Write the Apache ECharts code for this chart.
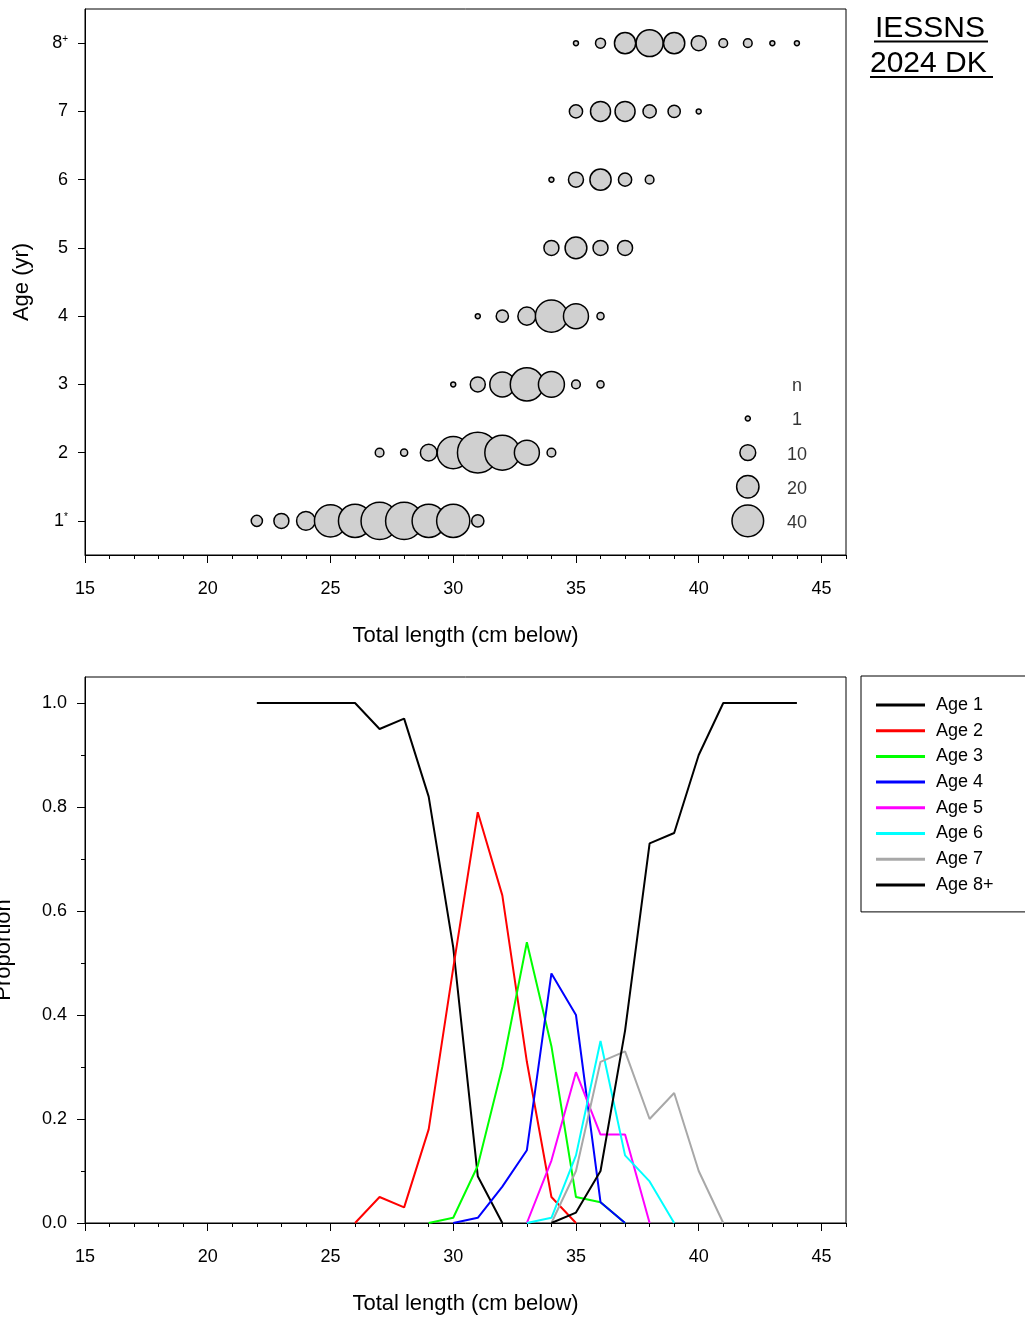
<!DOCTYPE html>
<html>
<head>
    <meta charset="utf-8">
    <title>IESSNS 2024 DK</title>
    <script src="https://cdn.jsdelivr.net/npm/echarts@6/dist/echarts.min.js"></script>
    <style>
        html, body { margin: 0; padding: 0; background: #fff; }
    </style>
</head>
<body>
<div id="main" style="width: 1025px;height:1321px;"></div>
<script type="text/javascript">
    // --- top panel: numbers at age by length (bubble = count) ---
    var ageLengths = [
        [22, 23, 24, 25, 26, 27, 28, 29, 30, 31],
        [27, 28, 29, 30, 31, 32, 33, 34],
        [30, 31, 32, 33, 34, 35, 36],
        [31, 32, 33, 34, 35, 36],
        [34, 35, 36, 37],
        [34, 35, 36, 37, 38],
        [35, 36, 37, 38, 39, 40],
        [35, 36, 37, 38, 39, 40, 41, 42, 43, 44]
    ];
    var ageCounts = [
        [5, 9, 14, 41, 44, 55, 55, 44, 44, 6],
        [3, 2, 11, 41, 66, 49, 25, 3],
        [1, 9, 25, 44, 27, 3, 2],
        [1, 6, 13, 41, 25, 2],
        [9, 19, 9, 9],
        [1, 9, 18, 7, 3],
        [7, 16, 16, 7, 6, 1],
        [1, 4, 18, 29, 18, 9, 3, 3, 1, 1]
    ];
    var sizeKeys = [1, 10, 20, 40];
    var ageTicks = [1, 2, 3, 4, 5, 6, 7, 8];

    // --- bottom panel: proportion at age by length ---
    var seriesNames = ['Age 1', 'Age 2', 'Age 3', 'Age 4', 'Age 5', 'Age 6', 'Age 7', 'Age 8+'];
    var seriesColors = ['#000000', '#ff0000', '#00ff00', '#0000ff', '#ff00ff', '#00ffff', '#a8a8a8', '#000000'];
    var propStart = [22, 26, 29, 30, 33, 33, 34, 34];
    var propValues = [
        [1, 1, 1, 1, 1, 0.95, 0.97, 0.82, 0.53, 0.09, 0],
        [0, 0.05, 0.03, 0.18, 0.49, 0.79, 0.63, 0.31, 0.05, 0],
        [0, 0.01, 0.11, 0.30, 0.54, 0.34, 0.05, 0.04, 0],
        [0, 0.01, 0.07, 0.14, 0.48, 0.40, 0.04, 0],
        [0, 0.12, 0.29, 0.17, 0.17, 0],
        [0, 0.01, 0.13, 0.35, 0.13, 0.08, 0],
        [0, 0.10, 0.31, 0.33, 0.20, 0.25, 0.10, 0],
        [0, 0.02, 0.10, 0.37, 0.73, 0.75, 0.90, 1, 1, 1, 1]
    ];
    var lengthMajor = [15, 20, 25, 30, 35, 40, 45];
    var propMajor = [0, 0.2, 0.4, 0.6, 0.8, 1.0];
    var propMinor = [0.1, 0.3, 0.5, 0.7, 0.9];

    var FONT = 'Liberation Sans, Arial, sans-serif';
    var myChart = echarts.init(document.getElementById('main'));

    // bubble area proportional to count
    function bubbleSize(v) { return 5 * Math.sqrt(v[2]); }

    var bubbleData = [];
    ageLengths.forEach(function (lens, i) {
        lens.forEach(function (len, j) {
            bubbleData.push([len, ageTicks[i], ageCounts[i][j]]);
        });
    });

    // key for bubble sizes drawn inside the panel
    var keyCircles = sizeKeys.map(function (n, i) { return [42, 2.5 - i * 0.5, n]; });
    var keyLabels = sizeKeys.map(function (n, i) { return { value: [44, 2.5 - i * 0.5], label: { formatter: String(n) } }; });
    keyLabels.push({ value: [44, 3], label: { formatter: 'n' } });

    function xAxisPair(gridIndex) {
        return [{
            gridIndex: gridIndex, type: 'value', min: 15, max: 46, interval: 1, position: 'bottom',
            axisLine: { lineStyle: { color: '#000', width: 1 } },
            axisTick: { length: 4, lineStyle: { color: '#000' } },
            axisLabel: { show: false },
            splitLine: { show: false },
            name: 'Total length (cm below)', nameLocation: 'middle', nameGap: 70,
            nameTextStyle: { fontSize: 22, color: '#000', fontFamily: FONT }
        }, {
            gridIndex: gridIndex, type: 'value', min: 15, max: 46, position: 'bottom',
            axisLine: { show: false },
            axisTick: { length: 8, customValues: lengthMajor, lineStyle: { color: '#000' } },
            axisLabel: { customValues: lengthMajor, margin: 25, fontSize: 18, color: '#000', fontFamily: FONT },
            splitLine: { show: false }
        }];
    }

    var lineSeries = propValues.map(function (vals, i) {
        return {
            name: seriesNames[i],
            type: 'line',
            xAxisIndex: 2, yAxisIndex: 1,
            symbol: 'none',
            lineStyle: { color: seriesColors[i], width: 2 },
            itemStyle: { color: seriesColors[i] },
            data: vals.map(function (v, j) { return [propStart[i] + j, v]; }),
            z: 3 + i
        };
    });

    var gridBox = { show: true, borderColor: '#000', borderWidth: 1, backgroundColor: 'transparent', outerBoundsMode: 'none', containLabel: false };

    myChart.setOption({
        animation: false,
        textStyle: { fontFamily: FONT },
        grid: [
            Object.assign({ left: 85, top: 9, width: 761, height: 546 }, gridBox),
            Object.assign({ left: 85, top: 677, width: 761, height: 546 }, gridBox)
        ],
        xAxis: xAxisPair(0).concat(xAxisPair(1)),
        yAxis: [{
            gridIndex: 0, type: 'value', min: 0.5, max: 8.5,
            axisLine: { lineStyle: { color: '#000' } },
            axisTick: { length: 7, customValues: ageTicks, lineStyle: { color: '#000' } },
            axisLabel: {
                customValues: ageTicks, margin: 17, fontSize: 18, color: '#000', fontFamily: FONT,
                formatter: function (v) {
                    if (v === 8) return '8{sup|+}';
                    if (v === 1) return '1{sup|*}';
                    return String(v);
                },
                rich: { sup: { fontSize: 10, verticalAlign: 'top', color: '#000', fontFamily: FONT, padding: [0, 0, 6, 0] } }
            },
            splitLine: { show: false },
            name: 'Age (yr)', nameLocation: 'middle', nameGap: 52, nameRotate: 90,
            nameTextStyle: { fontSize: 22, color: '#000', fontFamily: FONT }
        }, {
            gridIndex: 1, type: 'value', min: 0, max: 1.05, position: 'left',
            axisLine: { lineStyle: { color: '#000' } },
            axisTick: { length: 8, customValues: propMajor, lineStyle: { color: '#000' } },
            axisLabel: {
                customValues: propMajor, margin: 18, fontSize: 18, color: '#000', fontFamily: FONT,
                formatter: function (v) { return v.toFixed(1); }
            },
            splitLine: { show: false },
            name: 'Proportion', nameLocation: 'middle', nameGap: 70, nameRotate: 90,
            nameTextStyle: { fontSize: 22, color: '#000', fontFamily: FONT }
        }, {
            gridIndex: 1, type: 'value', min: 0, max: 1.05, position: 'left',
            axisLine: { show: false },
            axisTick: { length: 4, customValues: propMinor, lineStyle: { color: '#000' } },
            axisLabel: { show: false },
            splitLine: { show: false }
        }],
        legend: {
            data: seriesNames.map(function (n, i) { return { name: n, icon: 'rect', itemStyle: { color: seriesColors[i] } }; }),
            orient: 'vertical',
            left: 861, top: 676,
            padding: [19, 40, 17, 15],
            itemWidth: 49, itemHeight: 3, itemGap: 5.7,
            borderColor: '#000', borderWidth: 1,
            textStyle: { fontSize: 18, color: '#000', fontFamily: FONT, lineHeight: 20, padding: [0, 0, 0, 6] },
            selectedMode: false
        },
        graphic: [
            { type: 'text', left: 875, top: 14, style: { text: 'IESSNS', font: '30px ' + FONT, fill: '#000' } },
            { type: 'line', shape: { x1: 874, y1: 41.5, x2: 988, y2: 41.5 }, style: { stroke: '#000', lineWidth: 2 } },
            { type: 'text', left: 870, top: 49, style: { text: '2024 DK', font: '30px ' + FONT, fill: '#000' } },
            { type: 'line', shape: { x1: 870, y1: 77, x2: 993, y2: 77 }, style: { stroke: '#000', lineWidth: 2 } }
        ],
        series: [{
            type: 'scatter',
            xAxisIndex: 0, yAxisIndex: 0,
            data: bubbleData,
            symbolSize: bubbleSize,
            itemStyle: { color: '#d0d0d0', borderColor: '#000', borderWidth: 1.5, opacity: 1 }
        }, {
            type: 'scatter',
            xAxisIndex: 0, yAxisIndex: 0,
            data: keyCircles,
            symbolSize: bubbleSize,
            itemStyle: { color: '#d0d0d0', borderColor: '#000', borderWidth: 1.5, opacity: 1 }
        }, {
            type: 'scatter',
            xAxisIndex: 0, yAxisIndex: 0,
            data: keyLabels,
            symbolSize: 0,
            label: { show: true, position: 'inside', offset: [0, 2], fontSize: 18, color: '#000', fontFamily: FONT }
        }].concat(lineSeries)
    });
</script>
</body>
</html>
